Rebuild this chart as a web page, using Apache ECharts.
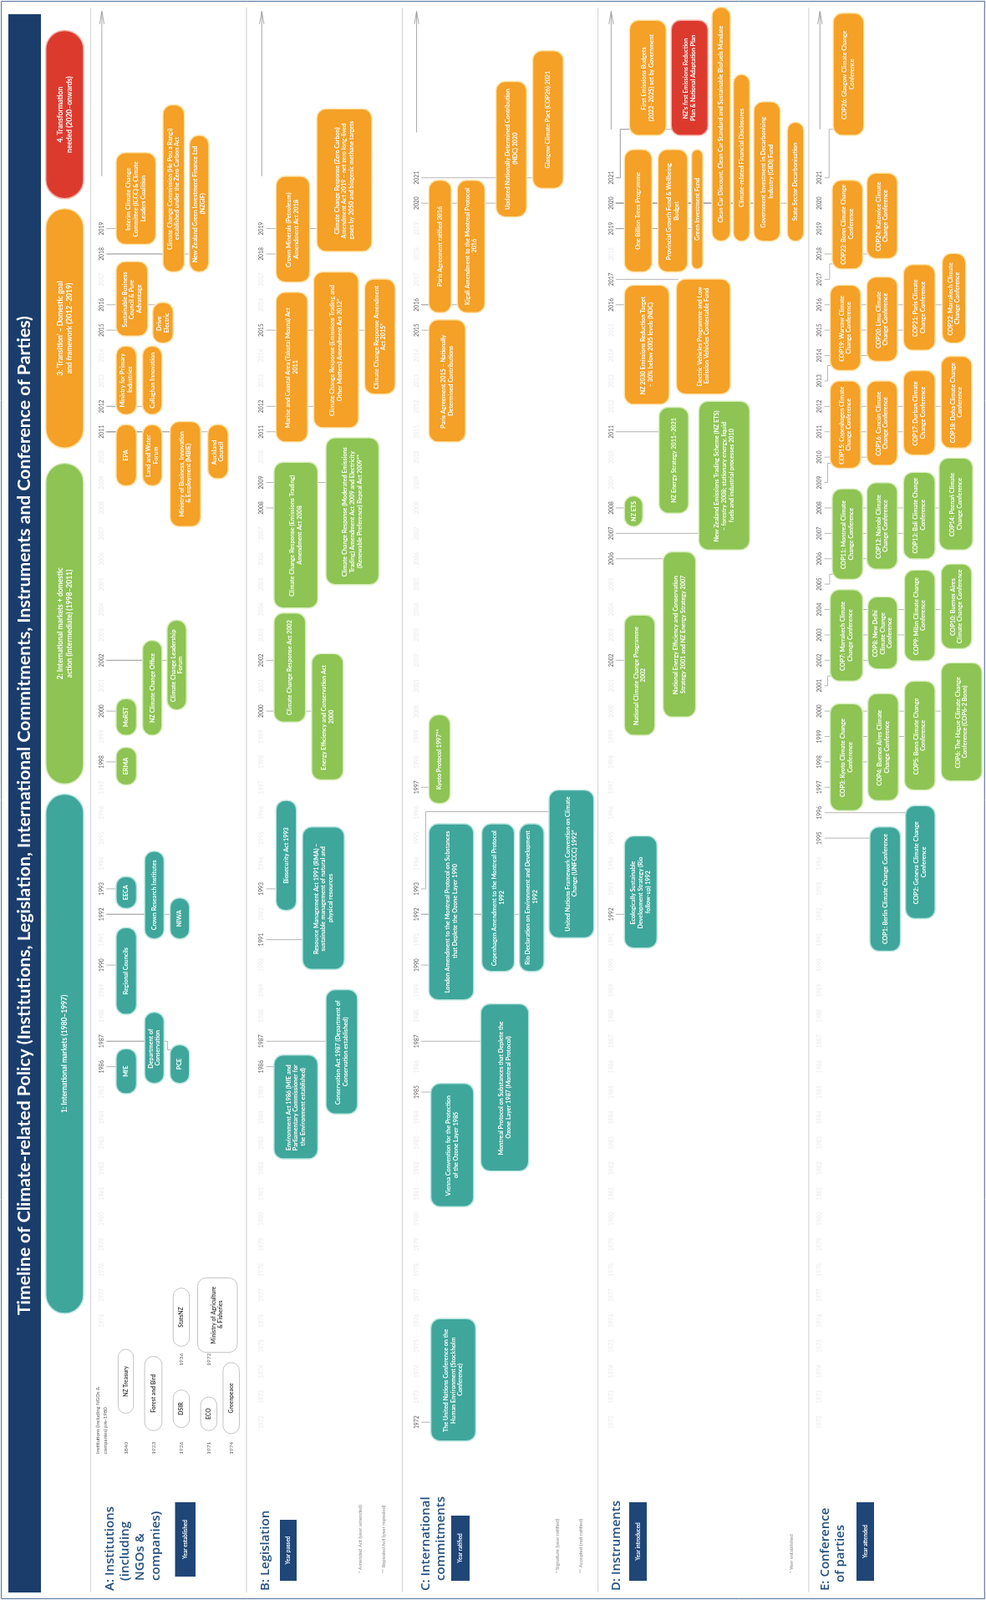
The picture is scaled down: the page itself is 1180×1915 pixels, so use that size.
<!DOCTYPE html>
<html><head><meta charset="utf-8">
<script src="https://cdn.jsdelivr.net/npm/echarts@6.0.0/dist/echarts.min.js"></script>
<style>html,body{margin:0;padding:0;background:#fff}#c{width:1180px;height:1915px}</style>
</head><body><div id="c"></div>
<script>
// ====================== DATA ======================
const titleText = 'Timeline of Climate-related Policy (Institutions, Legislation, International Commitments, Instruments and Conference of Parties)';

const phaseNames = [
  '1: International markets (1980–1997)',
  '2: International markets + domestic\naction (intermediate) (1998–2011)',
  '3: ‘Transition’ – Domestic goal\nand framework (2012–2019)',
  '4. Transformation\nneeded (2020–onwards)'
];
const phaseStartYear = [1980, 1998, 2012, 2020];

const laneTitles = [['A: Institutions', '(including', 'NGOs &', 'companies)'], ['B: Legislation'], ['C: International', 'commitments'], ['D: Instruments'], ['E: Conference', 'of parties']];
const laneBadges = ['Year established', 'Year passed', 'Year ratified', 'Year introduced', 'Year attended'];
const laneNotes = [[], ['* Amended Act (year amended)', '** Repealed Act (year repealed)'], ['* Signature (year ratified)', '** Accepted (not ratified)'], ['* Year established'], []];

// A: Institutions
const instLabels = ['MfE', 'Department of Conservation', 'PCE', 'Regional Councils', 'EECA', 'Crown Research Institutes', 'NIWA', 'ERMA', 'MoRST', 'NZ Climate Change Office', 'Climate Change Leadership Forum', 'EPA', 'Land and Water Forum', 'Ministry of Business, Innovation & Employment (MBIE)', 'Auckland Council', 'Ministry for Primary Industries', 'Callaghan Innovation', 'Sustainable Business Council & Pure Advantage', 'Drive Electric', 'Interim Climate Change Committee (ICCC) & Climate Leaders Coalition', 'Climate Change Commission (He Pou a Rangi) established under the Zero Carbon Act', 'New Zealand Green Investment Finance Ltd (NZGIF)'];
const instYears = [1986, 1987, 1987, 1990, 1993, 1992, 1992, 1998, 2000, 2002, 2002, 2011, 2011, 2011, 2011, 2012, 2012, 2015, 2016, 2019, 2018, 2018];
const instPhase = [0, 0, 0, 0, 0, 0, 0, 1, 1, 1, 1, 2, 2, 2, 2, 2, 2, 2, 2, 2, 2, 2];
const instTicks = [1986, 1987, 1990, 1992, 1993, 1998, 2000, 2002, 2011, 2012, 2015, 2016, 2018, 2019];

// A: Institutions pre-1980
const preNames = ['NZ Treasury', 'Forest and Bird', 'DSIR', 'StatsNZ', 'ECO', 'Ministry of Agriculture & Fisheries', 'Greenpeace'];
const preYears = [1840, 1923, 1926, 1936, 1971, 1972, 1974];
const preHeader = 'Institutions (including NGOs & companies) pre-1980';

// B: Legislation
const legLabels = ['Environment Act 1986 (MfE and Parliamentary Commissioner for the Environment established)', 'Conservation Act 1987 (Department of Conservation established)', 'Resource Management Act 1991 (RMA) – sustainable management of natural and physical resources', 'Biosecurity Act 1993', 'Energy Efficiency and Conservation Act 2000', 'Climate Change Response Act 2002', 'Climate Change Response (Emissions Trading) Amendment Act 2008', 'Climate Change Response (Moderated Emissions Trading) Amendment Act 2009 and Electricity (Renewable Preference) Repeal Act 2009**', 'Marine and Coastal Area (Takutai Moana) Act 2011', 'Climate Change Response (Emissions Trading and Other Matters) Amendment Act 2012*', 'Climate Change Response Amendment Act 2015*', 'Crown Minerals (Petroleum) Amendment Act 2018', 'Climate Change Response (Zero Carbon) Amendment Act 2019 – net zero long-lived gases by 2050 and biogenic methane targets'];
const legYears = [1986, 1987, 1991, 1993, 2000, 2002, 2008, 2009, 2011, 2012, 2015, 2018, 2019];
const legPhase = [0, 0, 0, 0, 1, 1, 1, 1, 2, 2, 2, 2, 2];
const legTicks = [1986, 1987, 1991, 1993, 2000, 2002, 2008, 2009, 2011, 2012, 2015, 2018, 2019];

// C: International commitments
const commLabels = ['The United Nations Conference on the Human Environment (Stockholm Conference)', 'Vienna Convention for the Protection of the Ozone Layer 1985', 'Montreal Protocol on Substances that Deplete the Ozone Layer 1987 (Montreal Protocol)', 'London Amendment to the Montreal Protocol on Substances that Deplete the Ozone Layer 1990', 'Copenhagen Amendment to the Montreal Protocol 1992', 'Rio Declaration on Environment and Development 1992', 'United Nations Framework Convention on Climate Change (UNFCCC) 1992*', 'Kyoto Protocol 1997**', 'Paris Agreement 2015 – Nationally Determined Contributions', 'Paris Agreement ratified 2016', 'Kigali Amendment to the Montreal Protocol 2016', 'Updated Nationally Determined Contribution (NDC) 2020', 'Glasgow Climate Pact (COP26) 2021'];
const commYears = [1972, 1985, 1987, 1990, 1992, 1992, 1993, 1997, 2015, 2016, 2016, 2020, 2021];
const commPhase = [0, 0, 0, 0, 0, 0, 0, 1, 2, 2, 2, 2, 2];
const commTicks = [1972, 1985, 1987, 1990, 1992, 1993, 1997, 2015, 2016, 2020, 2021];

// D: Instruments
const instrLabels = ['Ecologically Sustainable Development Strategy (Rio follow-up) 1992', 'National Climate Change Programme 2002', 'National Energy Efficiency and Conservation Strategy 2001 and NZ Energy Strategy 2007', 'NZ ETS', 'NZ Energy Strategy 2011–2021', 'New Zealand Emissions Trading Scheme (NZ ETS) – forestry 2008; stationary energy, liquid fuels and industrial processes 2010', 'NZ 2030 Emissions Reduction Target – 30% below 2005 levels (NDC)', 'Electric Vehicles Programme and Low Emission Vehicles Contestable Fund', 'One Billion Trees Programme', 'Provincial Growth Fund & Wellbeing Budget', 'Green Investment Fund', 'First Emissions Budgets (2022–2025) set by Government', 'NZ’s first Emissions Reduction Plan & National Adaptation Plan', 'Clean Car Discount, Clean Car Standard and Sustainable Biofuels Mandate', 'Climate-related Financial Disclosures', 'Government Investment in Decarbonising Industry (GIDI) Fund', 'State Sector Decarbonisation'];
const instrYears = [1992, 2002, 2006, 2008, 2011, 2007, 2016, 2017, 2019, 2019, 2019, 2021, 2021, 2020, 2020, 2020, 2020];
const instrPhase = [0, 1, 1, 1, 1, 1, 2, 2, 2, 2, 2, 2, 3, 2, 2, 2, 2];
const instrTicks = [1992, 2002, 2006, 2007, 2008, 2011, 2016, 2017, 2019, 2020, 2021];

// E: Conference of parties
const copLabels = ['COP1: Berlin Climate Change Conference', 'COP2: Geneva Climate Change Conference', 'COP3: Kyoto Climate Change Conference', 'COP4: Buenos Aires Climate Change Conference', 'COP5: Bonn Climate Change Conference', 'COP6: The Hague Climate Change Conference (COP6-2 Bonn)', 'COP7: Marrakech Climate Change Conference', 'COP8: New Delhi Climate Change Conference', 'COP9: Milan Climate Change Conference', 'COP10: Buenos Aires Climate Change Conference', 'COP11: Montreal Climate Change Conference', 'COP12: Nairobi Climate Change Conference', 'COP13: Bali Climate Change Conference', 'COP14: Poznań Climate Change Conference', 'COP15: Copenhagen Climate Change Conference', 'COP16: Cancún Climate Change Conference', 'COP17: Durban Climate Change Conference', 'COP18: Doha Climate Change Conference', 'COP19: Warsaw Climate Change Conference', 'COP20: Lima Climate Change Conference', 'COP21: Paris Climate Change Conference', 'COP22: Marrakech Climate Change Conference', 'COP23: Bonn Climate Change Conference', 'COP24: Katowice Climate Change Conference', 'COP26: Glasgow Climate Change Conference'];
const copYears = [1995, 1996, 1997, 1998, 1999, 2000, 2001, 2002, 2003, 2004, 2005, 2006, 2007, 2008, 2009, 2010, 2011, 2012, 2013, 2014, 2015, 2016, 2017, 2018, 2021];
const copPhase = [0, 0, 1, 1, 1, 1, 1, 1, 1, 1, 1, 1, 1, 1, 2, 2, 2, 2, 2, 2, 2, 2, 2, 2, 2];
const copTicks = [1995, 1996, 1997, 1998, 1999, 2000, 2001, 2002, 2003, 2004, 2005, 2006, 2007, 2008, 2009, 2010, 2011, 2012, 2013, 2014, 2015, 2016, 2017, 2018, 2019, 2020, 2021];

// ====================== LAYOUT (positions / sizes) ======================
// horizontal layout units: 0..968 across the page; vertical: years
const X_MAX = 968, Y_MIN = 1965, Y_MAX = 2028;
const laneLeft = [89, 242, 395, 587, 794];
const laneRightEdge = 966;
const tickX = [100, 257, 409, 600, 805];
const arrowFrom = [2021.06, 2021.06, 2022.79, 2022.91, 2022.91];
const faintFrom = [1976, 1972, 1972, 1972, 1972];
const phaseLayout = [[45, 82, 1996.73, 1976.28], [45, 82, 2009.76, 1997.13], [45, 82, 2019.78, 2010.36], [45, 82, 2026.80, 2020.18]];
// [x0, x1, topYear, bottomYear, (connector via year)] relative to lane left
const instLayout = [[25,45,1986.70,1984.94],[53,72,1988.14,1985.34],[78,97,1986.86,1985.34],[25,45,1991.47,1988.06],[25,45,1993.48,1992.23],[53,72,1994.48,1991.03],[78,97,1992.64,1991.03],[25,45,1998.57,1997.09],[25,45,2000.49,1999.05],[51,70,2002.78,1999.05],[75,94,2003.58,2000.05],[25,45,2011.28,2008.87],[51,70,2011.28,2008.87],[78,108,2011.40,2007.27],[115,135,2011.28,2009.15],[25,45,2014.37,2011.68],[51,70,2014.37,2011.68],[25,56,2017.70,2014.77],[61,81,2016.09,2014.49],[25,64,2021.99,2018.38],[71,92,2023.87,2017.29],[97,116,2022.67,2017.29]];
// pre-1980: [x0, x1, top, bottom, labelX, labelY]
const preLayout = [[27,42,1974.87,1972.35,34.5,1970.98],[53,70,1974.59,1971.67,61.5,1970.98],[81,97,1973.27,1971.79,89,1970.98],[81,97,1977.28,1974.99,89,1974.47],[108,124,1972.99,1971.67,116,1970.98],[105,144,1977.68,1974.75,116,1974.47],[130,146,1974.35,1971.55,138,1970.98]];
const legLayout = [[27,70,1986.46,1982.37],[78,109,1989.03,1984.14],[55,96,1995.44,1989.83],[29,49,1996.48,1992.15],[64,95,2002.26,1997.29],[27,58,2003.86,1999.57],[27,70,2009.80,2004.06],[78,130,2010.76,2004.98],[29,60,2016.49,2010.60],[66,110,2017.29,2011.16],[116,146,2017.01,2012.48],[29,62,2021.06,2016.89],[69,123,2023.71,2018.10]];
const commLayout = [[28,72,1976.08,1971.26],[28,70,1985.34,1980.49],[77,124,1988.47,1981.89],[26,70,1995.56,1988.63],[78,110,1995.56,1989.75],[115,139,1995.56,1989.75],[144,188,1996.89,1991.07,1996.04],[26,47,1999.85,1996.36],[26,62,2015.41,2010.60],[26,48,2020.90,2015.69],[54,81,2020.90,2015.69],[92,122,2024.79,2019.46],[128,158,2026.00,2020.58]];
const instrLayout = [[26,58,1995.08,1990.67],[26,56,2003.78,1999.05],[64,96,2006.27,1999.77],[26,44,2008.47,2007.27],[60,89,2011.96,2007.79],[99,149,2012.20,2006.35],[26,70,2016.77,2012.08],[77,130,2017.01,2012.48],[26,53,2022.11,2017.29],[59,88,2022.11,2017.29],[92,103,2022.11,2017.41],[31,67,2027.20,2022.67,2022.91],[72,108,2027.20,2022.67,2022.91],[112,130,2027.72,2018.50],[133,149,2025.07,2018.50],[153,179,2023.99,2018.50],[186,202,2023.19,2018.50]];
const copLayout = [[60,90,1995.44,1990.55],[95,124,1996.28,1991.83],[21,53,2000.29,1996.08],[58,88,2000.69,1996.48],[94,124,2001.18,1996.89],[130,170,2001.90,1997.25],[21,53,2004.78,2001.18],[58,87,2004.50,2001.66],[94,124,2005.55,2001.98],[130,160,2005.79,2002.46],[23,53,2008.75,2005.19],[57,87,2008.99,2005.59],[93,124,2009.40,2005.99],[128,161,2009.96,2006.35],[21,51,2013.00,2009.56],[57,87,2013.00,2009.68],[93,124,2013.41,2010.08],[130,160,2013.97,2010.36],[21,51,2016.77,2013.41],[57,87,2017.09,2013.77],[93,124,2017.58,2014.21],[131,154,2018.02,2014.49],[23,53,2020.90,2017.41],[57,87,2021.18,2017.82],[24,54,2027.48,2022.67,2022.91]];

// ====================== STYLE ======================
const NAVY = '#1b3d6c';
const TITLE_BLUE = '#24507f';
const phaseFill = ['#3fa69b', '#8dc454', '#f5a027', '#dd3a2e'];
const phaseStroke = ['#b5e4dd', '#d7edbb', '#fde2a4', '#f3b2aa'];
const FONT = 'Lato, "Open Sans", sans-serif';

// ====================== BUILD ======================
const laneSets = [
  [instLabels, instYears, instPhase, instLayout, instTicks],
  [legLabels, legYears, legPhase, legLayout, legTicks],
  [commLabels, commYears, commPhase, commLayout, commTicks],
  [instrLabels, instrYears, instrPhase, instrLayout, instrTicks],
  [copLabels, copYears, copPhase, copLayout, copTicks]
];
const boxes = [];
const ticks = [];
laneSets.forEach(([labels, years, phases, layout, tk], l) => {
  labels.forEach((t, i) => {
    const L = layout[i];
    boxes.push({ lane: l, text: t, year: years[i], phase: phases[i], x0: laneLeft[l] + L[0], x1: laneLeft[l] + L[1], top: L[2], bottom: L[3], via: L[4] });
  });
  const maxT = Math.max.apply(null, tk);
  for (let y = faintFrom[l]; y <= maxT; y++) {
    ticks.push({ x: tickX[l], year: y, faint: tk.indexOf(y) < 0 });
  }
});
const pres = preNames.map((n, i) => {
  const L = preLayout[i];
  return { text: n, year: preYears[i], x0: laneLeft[0] + L[0], x1: laneLeft[0] + L[1], top: L[2], bottom: L[3], lx: laneLeft[0] + L[4], ly: L[5] };
});
const phases = phaseNames.map((n, i) => ({ text: n, start: phaseStartYear[i], x0: phaseLayout[i][0], x1: phaseLayout[i][1], top: phaseLayout[i][2], bottom: phaseLayout[i][3], phase: i }));

function rotText(x, y, text, st) {
  return { type: 'text', x: x, y: y, rotation: Math.PI / 2, style: Object.assign({ text: text, align: 'center', verticalAlign: 'middle', fontFamily: FONT }, st) };
}

function renderBox(params, api) {
  const b = boxes[params.dataIndex];
  const p0 = api.coord([b.x0, b.top]);
  const p1 = api.coord([b.x1, b.bottom]);
  const w = p1[0] - p0[0], h = p1[1] - p0[1];
  return {
    type: 'group', children: [
      { type: 'rect', shape: { x: p0[0], y: p0[1], width: w, height: h, r: Math.min(w / 2, 11) }, style: { fill: phaseFill[b.phase], stroke: phaseStroke[b.phase], lineWidth: 1.4 } },
      rotText(p0[0] + w / 2, p0[1] + h / 2, b.text, { fill: '#ffffff', fontSize: 7.2, fontWeight: 'bold', lineHeight: 8.6, width: h - 8, height: w - 2, overflow: 'break', lineOverflow: 'truncate' })
    ]
  };
}
function renderConn(params, api) {
  const b = boxes[params.dataIndex];
  const tx = tickX[b.lane] + 4.5;
  let pts;
  if (b.via !== undefined) {
    const bx = tickX[b.lane] + 9;
    pts = [[tx, b.year], [bx, b.year], [bx, b.via], [b.x0 + 2, b.via]];
  } else if (b.year <= b.top && b.year >= b.bottom) {
    pts = [[tx, b.year], [b.x0 + 2, b.year]];
  } else {
    const cy = b.year > b.top ? b.top - 0.2 : b.bottom + 0.2;
    pts = [[tx, b.year], [b.x0 - 2.5, b.year], [b.x0 - 2.5, cy], [b.x0 + 2, cy]];
  }
  return { type: 'polyline', shape: { points: pts.map(p => api.coord(p)) }, style: { stroke: '#a3a3a3', lineWidth: 0.8, fill: null } };
}
function renderTick(params, api) {
  const t = ticks[params.dataIndex];
  const p = api.coord([t.x, t.year]);
  return rotText(p[0], p[1], String(t.year), { fill: t.faint ? '#e9e9e9' : '#5e5e5e', fontSize: 6.8 });
}
function renderPhase(params, api) {
  const b = phases[params.dataIndex];
  const p0 = api.coord([b.x0, b.top]);
  const p1 = api.coord([b.x1, b.bottom]);
  const w = p1[0] - p0[0], h = p1[1] - p0[1];
  return {
    type: 'group', children: [
      { type: 'rect', shape: { x: p0[0], y: p0[1], width: w, height: h, r: w / 2 }, style: { fill: phaseFill[b.phase], stroke: phaseStroke[b.phase], lineWidth: 1.5 } },
      rotText(p0[0] + w / 2, p0[1] + h / 2, b.text, { fill: '#ffffff', fontSize: 8.5, fontWeight: 'bold', lineHeight: 11 })
    ]
  };
}
function renderPre(params, api) {
  const b = pres[params.dataIndex];
  const p0 = api.coord([b.x0, b.top]);
  const p1 = api.coord([b.x1, b.bottom]);
  const w = p1[0] - p0[0], h = p1[1] - p0[1];
  const lp = api.coord([b.lx, b.ly]);
  return {
    type: 'group', children: [
      { type: 'rect', shape: { x: p0[0], y: p0[1], width: w, height: h, r: Math.min(w / 2, 10) }, style: { fill: '#ffffff', stroke: '#c4c4c4', lineWidth: 1 } },
      rotText(p0[0] + w / 2, p0[1] + h / 2, b.text, { fill: '#444444', fontSize: 6.8, fontWeight: 'bold', lineHeight: 8, width: h - 8, overflow: 'break' }),
      rotText(lp[0], lp[1], String(b.year), { fill: '#666666', fontSize: 6.5 })
    ]
  };
}
const sepX = [89].concat(laneLeft.slice(1)).concat([laneRightEdge]);
function renderSep(params, api) {
  const x = sepX[params.dataIndex];
  const a = api.coord([x, Y_MAX - 0.3]), b = api.coord([x, Y_MIN + 0.3]);
  return { type: 'line', shape: { x1: a[0], y1: a[1], x2: b[0], y2: b[1] }, style: { stroke: '#d9d9d9', lineWidth: 1.3 } };
}
function renderArrow(params, api) {
  const l = params.dataIndex;
  const a = api.coord([tickX[l], arrowFrom[l]]), b = api.coord([tickX[l], Y_MAX - 0.45]);
  const hl = api.coord([tickX[l] - 2.2, Y_MAX - 0.95]), hr = api.coord([tickX[l] + 2.2, Y_MAX - 0.95]);
  return {
    type: 'group', children: [
      { type: 'line', shape: { x1: a[0], y1: a[1], x2: b[0], y2: b[1] }, style: { stroke: '#9e9e9e', lineWidth: 0.9 } },
      { type: 'polyline', shape: { points: [hl, b, hr] }, style: { stroke: '#9e9e9e', lineWidth: 0.9, fill: null } }
    ]
  };
}

// ---- static page decorations (pixel space)
const graphics = [];
graphics.push({ type: 'rect', shape: { x: 1.5, y: 1.5, width: 1177, height: 1912 }, style: { fill: 'none', stroke: '#52729c', lineWidth: 1 }, silent: true });
graphics.push({ type: 'rect', shape: { x: 10, y: 17, width: 39, height: 1889 }, style: { fill: NAVY } });
graphics.push({ type: 'text', x: 29.5, y: 1574, rotation: Math.PI / 2, style: { text: titleText, fill: '#ffffff', fontFamily: FONT, fontSize: 21.2, fontWeight: 'bold', align: 'left', verticalAlign: 'middle' } });
const titleX = [[131.7, 150, 168.2, 186.5], [318], [509.5, 528], [737.5], [987.5, 1005.7]];
const titleStart = [[1904, 1892, 1892, 1892], [1904], [1904, 1892], [1904], [1904, 1894]];
const badgeBox = [[209.5, 234, 1798, 1887], [335, 355, 1819, 1892], [540, 562, 1814, 1892], [753, 774, 1798, 1892], [1025, 1046, 1798, 1892]];
const noteX = [[], [431.5, 459.5], [667, 695], [947], []];
laneTitles.forEach((lines, l) => {
  lines.forEach((t, j) => {
    graphics.push({ type: 'text', x: titleX[l][j], y: titleStart[l][j], rotation: Math.PI / 2, style: { text: t, fill: TITLE_BLUE, fontFamily: '"Open Sans", Lato, sans-serif', fontSize: 15, fontWeight: 600, align: 'left', verticalAlign: 'middle' } });
  });
  const bb = badgeBox[l];
  graphics.push({ type: 'rect', shape: { x: bb[0], y: bb[2], width: bb[1] - bb[0], height: bb[3] - bb[2] }, style: { fill: '#1f4677' } });
  graphics.push({ type: 'text', x: (bb[0] + bb[1]) / 2, y: (bb[2] + bb[3]) / 2, rotation: Math.PI / 2, style: { text: laneBadges[l], fill: '#ffffff', fontFamily: FONT, fontSize: 6.5, fontWeight: 'bold', align: 'center', verticalAlign: 'middle' } });
  laneNotes[l].forEach((t, j) => {
    graphics.push({ type: 'text', x: noteX[l][j], y: 1883, rotation: Math.PI / 2, style: { text: t, fill: '#888888', fontFamily: FONT, fontSize: 6, align: 'left', verticalAlign: 'middle' } });
  });
});
graphics.push({ type: 'text', x: 122, y: 1740, rotation: Math.PI / 2, style: { text: preHeader, fill: '#555555', fontFamily: FONT, fontSize: 6, lineHeight: 9, width: 105, overflow: 'break', align: 'left', verticalAlign: 'middle' } });

const chart = echarts.init(document.getElementById('c'), null, { renderer: 'canvas' });
chart.setOption({
  animation: false,
  backgroundColor: '#ffffff',
  grid: { left: 0, right: 0, top: 0, bottom: 0 },
  xAxis: { type: 'value', min: 0, max: X_MAX, show: false },
  yAxis: { type: 'value', min: Y_MIN, max: Y_MAX, show: false },
  graphic: graphics,
  series: [
    { type: 'custom', name: 'separators', renderItem: renderSep, data: sepX.map(x => [x, Y_MIN]), silent: true, z: 1, clip: false },
    { type: 'custom', name: 'axisArrows', renderItem: renderArrow, data: tickX.map((x, l) => [x, arrowFrom[l]]), silent: true, z: 2, clip: false },
    { type: 'custom', name: 'connectors', renderItem: renderConn, data: boxes.map(b => [b.x0, b.year]), silent: true, z: 2, clip: false },
    { type: 'custom', name: 'years', renderItem: renderTick, data: ticks.map(t => [t.x, t.year]), silent: true, z: 3, clip: false },
    { type: 'custom', name: 'phases', renderItem: renderPhase, data: phases.map(p => [p.x0, p.top]), silent: true, z: 4, clip: false },
    { type: 'custom', name: 'pre1980', renderItem: renderPre, data: pres.map(p => [p.x0, p.top]), silent: true, z: 4, clip: false },
    { type: 'custom', name: 'events', renderItem: renderBox, data: boxes.map(b => [b.x0, b.top]), silent: true, z: 5, clip: false }
  ]
});
</script></body></html>
